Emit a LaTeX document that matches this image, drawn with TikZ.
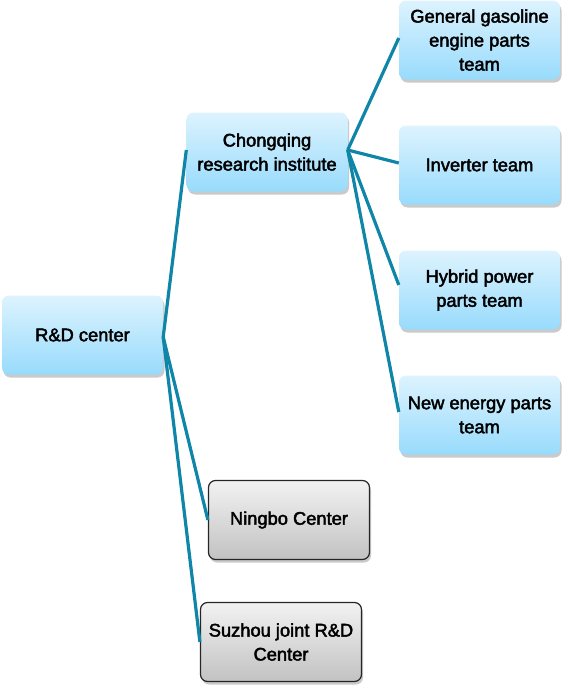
\documentclass[tikz,border=0pt]{standalone}
\usepackage{fontspec}
\setmainfont{Liberation Sans}[FakeBold=2.4]
\usetikzlibrary{shadows}
\definecolor{linec}{HTML}{0F85A8}
\definecolor{bluetop}{HTML}{DDF3FE}
\definecolor{bluebot}{HTML}{98DBFC}
\definecolor{greytop}{HTML}{F2F2F2}
\definecolor{greybot}{HTML}{C2C2C2}
\tikzset{
  box/.style={rounded corners=7pt, minimum width=161pt, minimum height=79pt,
    align=center, inner sep=2pt, font=\fontsize{18.3}{24}\selectfont,
    drop shadow={shadow xshift=1.5pt, shadow yshift=-3pt, opacity=0.35, fill=black!60}},
  bluebox/.style={box, top color=bluetop, bottom color=bluebot, draw=none},
  greybox/.style={box, top color=greytop, bottom color=greybot, draw=black!85, line width=1.2pt},
  conn/.style={draw=linec, line width=3.2pt}
}
\begin{document}
\begin{tikzpicture}[x=1pt,y=-1pt]
\useasboundingbox (0,0) rectangle (562,688);
\node[bluebox] (rd) at (82.5,335) {R\&D center};
\node[bluebox] (ch) at (267,152) {Chongqing\\research institute};
\node[bluebox] (gg) at (479.5,40) {General gasoline\\engine parts\\team};
\node[bluebox] (inv) at (479.5,165) {Inverter team};
\node[bluebox] (hy) at (479.5,290) {Hybrid power\\parts team};
\node[bluebox] (ne) at (479.5,415) {New energy parts\\team};
\node[greybox] (nb) at (289,520) {Ningbo Center};
\node[greybox] (sz) at (281,642) {Suzhou joint R\&D\\Center};
\coordinate (rdp) at ([yshift=-2pt]rd.east);
\coordinate (chp) at ([yshift=2pt]ch.east);
\draw[conn] (rdp) -- ([yshift=2pt]ch.west);
\draw[conn] (rdp) -- (nb.west);
\draw[conn] (rdp) -- (sz.west);
\draw[conn] (chp) -- ([yshift=2pt]gg.west);
\draw[conn] (chp) -- ([yshift=2pt]inv.west);
\draw[conn] (chp) -- ([yshift=5pt]hy.west);
\draw[conn] (chp) -- ([yshift=3pt]ne.west);
\end{tikzpicture}
\end{document}
